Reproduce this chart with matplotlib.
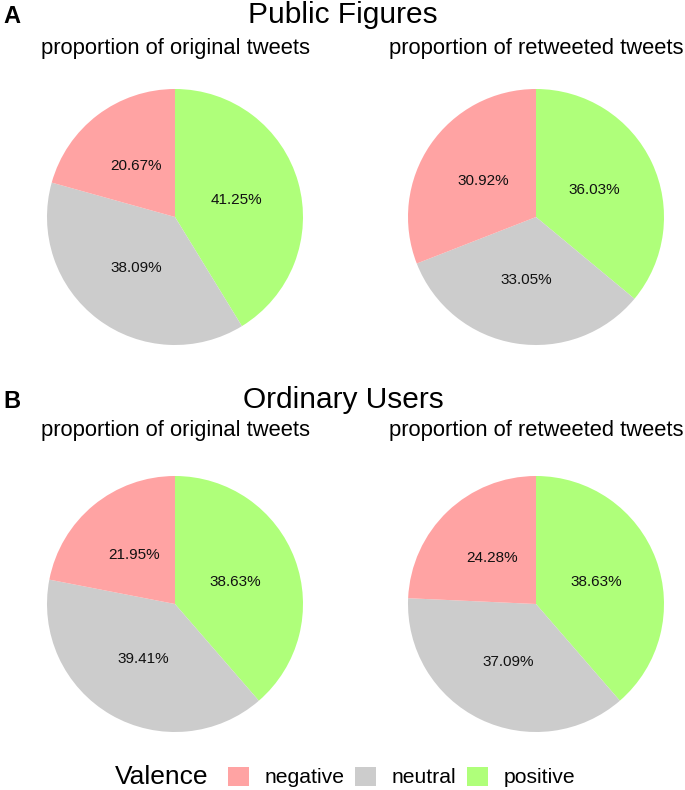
import matplotlib
matplotlib.use("Agg")
import matplotlib.pyplot as plt
from matplotlib.patches import Patch

plt.rcParams['font.family'] = ['Liberation Sans', 'DejaVu Sans']

# data (clockwise from 12 o'clock: positive, neutral, negative)
valence = ["positive", "neutral", "negative"]
colors = {"negative": "#FFA3A3", "neutral": "#CCCCCC", "positive": "#AFFF7A"}

pf_original = [41.25, 38.09, 20.67]
pf_retweeted = [36.03, 33.05, 30.92]
ou_original = [38.63, 39.41, 21.95]
ou_retweeted = [38.63, 37.09, 24.28]

panel_titles = ["Public Figures", "Ordinary Users"]
panel_tags = ["A", "B"]
sub_titles = ["proportion of original tweets", "proportion of retweeted tweets"]

W, H = 685, 790
fig = plt.figure(figsize=(W / 100, H / 100), dpi=100)

R = 128
centers_x = [175, 536]
centers_y = [217, 604]
title_base = [23, 408]
sub_base = [54, 436]
panel_data = [[pf_original, pf_retweeted], [ou_original, ou_retweeted]]


def draw_pie(cx, cy, vals):
    ax = fig.add_axes([(cx - R) / W, (H - cy - R) / H, 2 * R / W, 2 * R / H])
    labs = iter(["%.2f%%" % v for v in vals])
    ax.pie(vals, colors=[colors[v] for v in valence], startangle=90,
           counterclock=False, radius=1, autopct=lambda p: next(labs),
           pctdistance=0.5, textprops={'fontsize': 11, 'color': '#111111'},
           wedgeprops={'linewidth': 0})
    ax.set_xlim(-1, 1)
    ax.set_ylim(-1, 1)
    ax.set_aspect('equal')
    ax.axis('off')


for row in range(2):
    fig.text(3 / W, 1 - title_base[row] / H, panel_tags[row], fontsize=17,
             fontweight='bold', va='baseline', ha='left')
    fig.text(343 / W, 1 - title_base[row] / H, panel_titles[row], fontsize=21.5,
             va='baseline', ha='center')
    for col in range(2):
        fig.text(centers_x[col] / W, 1 - sub_base[row] / H, sub_titles[col],
                 fontsize=15.8, va='baseline', ha='center')
        draw_pie(centers_x[col], centers_y[row], panel_data[row][col])

# legend
fig.text(115 / W, 1 - 777 / H, "Valence", fontsize=19, va='center', ha='left')
order = ["negative", "neutral", "positive"]
handles = [Patch(facecolor=colors[v], edgecolor='none') for v in order]
fig.legend(handles, order, ncol=3, frameon=False, fontsize=15.2,
           loc='center left', bbox_to_anchor=(228 / W, 1 - 777 / H),
           handlelength=1.0, handleheight=1.0, handletextpad=0.72,
           columnspacing=0.52, borderpad=0, borderaxespad=0)

fig.savefig("out.png", dpi=100)
